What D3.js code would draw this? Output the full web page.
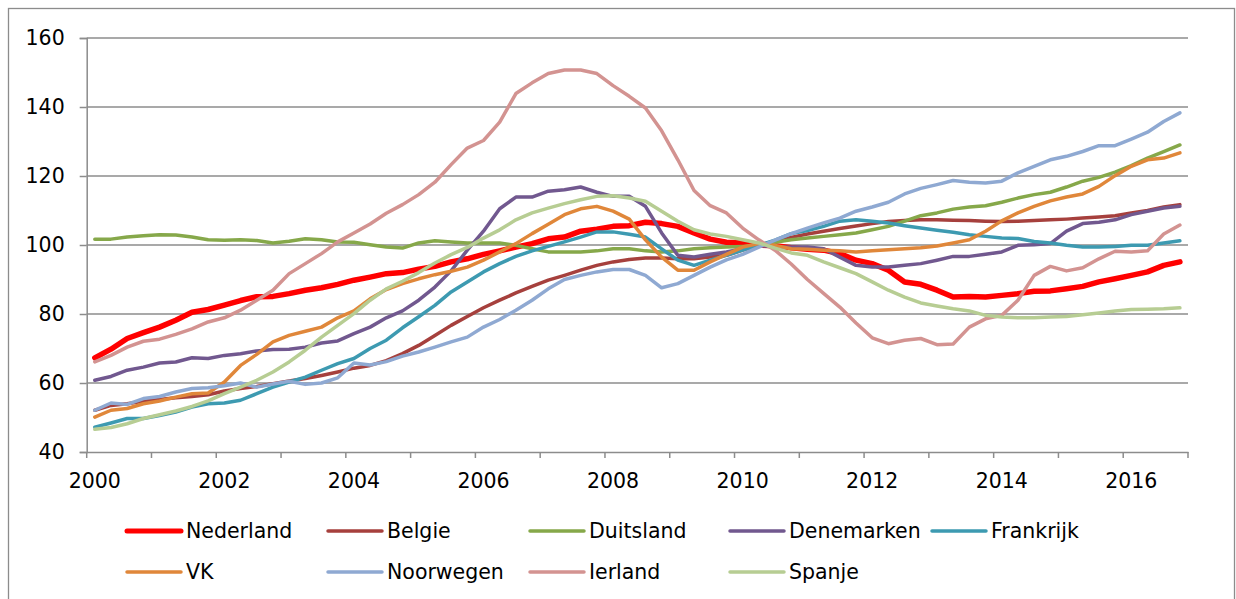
<!DOCTYPE html>
<html>
<head>
<meta charset="utf-8">
<script src="https://cdn.jsdelivr.net/npm/d3@7"></script>
<style>
  body { margin: 0; background: #fff; }
  text { font-family: "DejaVu Sans", Verdana, sans-serif; fill: #000; }
  .axis text { font-size: 20.5px; font-family: "DejaVu Sans", Verdana, sans-serif; }
</style>
</head>
<body>
<svg id="chart" width="1236" height="599"></svg>
<script>
const years = d3.range(2000, 2017)
const quarters = years.flatMap(y => [y + "Q1", y + "Q2", y + "Q3", y + "Q4"])
const yTicks = [40, 60, 80, 100, 120, 140, 160]

const nederland = [67.3, 69.8, 72.9, 74.6, 76.2, 78.2, 80.5, 81.3, 82.6, 83.9, 85.0, 85.1, 85.9, 86.9, 87.6, 88.6, 89.8, 90.7, 91.7, 92.0, 93.0,
    93.8, 95.1, 96.0, 97.3, 98.3, 99.4, 100.4, 101.8, 102.3, 104.0, 104.6, 105.4, 105.6, 106.6, 106.2, 105.4, 103.5, 101.7, 100.8, 100.6, 100.0,
    99.8, 99.2, 98.8, 98.5, 97.5, 95.6, 94.6, 92.7, 89.3, 88.6, 86.9, 84.9, 85.1, 84.9, 85.4, 85.9, 86.6, 86.7, 87.3, 88.0, 89.3, 90.2, 91.2, 92.2, 94.1, 95.1]
const belgie = [52.1, 53.5, 54.0, 54.7, 55.2, 55.7, 56.1, 56.6, 57.7, 58.4, 59.0, 59.8, 60.6, 61.3, 62.2, 63.2, 64.3, 65.1, 66.5, 68.5, 70.9,
    73.8, 76.7, 79.3, 81.8, 84.0, 86.1, 88.0, 89.8, 91.2, 92.7, 94.1, 95.1, 95.8, 96.2, 96.2, 96.0, 96.0, 96.5, 97.0, 98.5, 99.9,
    101.2, 102.2, 103.2, 104.0, 104.8, 105.5, 106.2, 106.8, 107.1, 107.3, 107.3, 107.2, 107.1, 106.9, 106.8, 106.9, 107.1, 107.3, 107.5, 107.8, 108.1, 108.5, 109.3, 110.0, 111.0, 111.7]
const duitsland = [101.7, 101.7, 102.3, 102.7, 103.0, 102.9, 102.3, 101.5, 101.4, 101.5, 101.3, 100.6, 101.1, 101.8, 101.5, 100.9, 100.8, 100.1, 99.4, 99.1, 100.6,
    101.2, 100.9, 100.6, 100.6, 100.6, 99.9, 98.9, 98.0, 98.0, 98.0, 98.3, 98.9, 98.9, 98.3, 98.0, 98.3, 98.9, 99.2, 99.4, 99.6, 99.9,
    100.8, 101.5, 102.0, 102.5, 103.0, 103.5, 104.4, 105.4, 106.9, 108.5, 109.3, 110.4, 111.0, 111.4, 112.4, 113.6, 114.6, 115.3, 116.8, 118.5, 119.6, 121.1, 123.0, 125.2, 127.1, 129.0]
const denemarken = [60.8, 61.9, 63.7, 64.6, 65.8, 66.1, 67.3, 67.1, 68.0, 68.5, 69.3, 69.7, 69.8, 70.4, 71.6, 72.2, 74.3, 76.2, 78.9, 80.9, 84.0,
    87.8, 92.5, 98.5, 104.0, 110.5, 113.9, 113.9, 115.6, 116.0, 116.8, 115.3, 114.1, 114.1, 111.2, 103.5, 97.0, 96.5, 97.3, 98.0, 98.9, 99.9,
    99.4, 99.4, 99.4, 98.9, 96.5, 94.1, 93.6, 93.6, 94.1, 94.6, 95.6, 96.7, 96.7, 97.3, 98.0, 99.9, 100.1, 100.4, 104.0, 106.2, 106.6, 107.3, 108.8, 109.8, 110.7, 111.2]
const frankrijk = [47.2, 48.4, 49.7, 49.7, 50.6, 51.6, 53.0, 54.0, 54.2, 55.0, 56.9, 58.8, 60.3, 61.7, 63.7, 65.6, 67.1, 70.0, 72.4, 76.0, 79.2,
    82.5, 86.4, 89.3, 92.2, 94.6, 96.7, 98.3, 99.6, 100.9, 102.3, 103.8, 103.8, 103.1, 102.3, 98.9, 95.6, 94.1, 95.6, 97.0, 98.5, 99.9,
    101.4, 103.3, 104.2, 105.4, 106.9, 107.3, 106.9, 106.4, 105.6, 104.9, 104.3, 103.7, 103.0, 102.5, 102.0, 101.9, 101.0, 100.6, 99.9, 99.4, 99.4, 99.6, 99.9, 99.9, 100.6, 101.2]
const vk = [50.1, 52.1, 52.6, 54.0, 54.8, 55.9, 56.9, 57.1, 60.3, 65.1, 68.3, 71.9, 73.8, 75.0, 76.2, 78.9, 80.9, 84.4, 87.1, 88.8, 90.2,
    91.4, 92.4, 93.6, 95.6, 98.0, 100.4, 103.3, 106.0, 108.8, 110.5, 111.2, 109.8, 107.5, 101.5, 96.5, 92.7, 92.7, 95.1, 97.3, 99.4, 100.4,
    99.9, 98.9, 98.8, 98.5, 98.3, 98.0, 98.3, 98.6, 98.9, 99.2, 99.7, 100.6, 101.5, 104.0, 107.0, 109.3, 111.2, 112.8, 113.9, 114.8, 117.0, 120.1, 122.8, 124.7, 125.2, 126.7]
const noorwegen = [52.1, 54.2, 53.8, 55.5, 56.1, 57.4, 58.4, 58.6, 59.2, 60.0, 58.8, 59.7, 60.5, 59.6, 60.0, 61.5, 65.8, 65.2, 66.2, 67.8, 69.0,
    70.4, 71.9, 73.3, 76.2, 78.4, 81.1, 84.0, 87.3, 90.0, 91.2, 92.2, 92.9, 92.9, 91.2, 87.6, 88.8, 91.2, 93.6, 95.7, 97.3, 99.4,
    101.4, 103.3, 104.9, 106.4, 107.8, 109.8, 111.0, 112.4, 114.8, 116.4, 117.5, 118.7, 118.2, 118.0, 118.5, 120.9, 122.8, 124.7, 125.7, 127.1, 128.8, 128.8, 130.7, 132.7, 135.8, 138.3]
const ierland = [66.1, 68.0, 70.4, 72.1, 72.7, 74.1, 75.7, 77.7, 78.9, 81.1, 84.0, 86.9, 91.7, 94.6, 97.5, 100.9, 103.5, 106.1, 109.2, 111.7, 114.6,
    118.2, 123.3, 128.1, 130.3, 135.6, 143.9, 147.0, 149.7, 150.7, 150.7, 149.7, 146.2, 143.1, 139.7, 133.1, 124.7, 115.8, 111.4, 109.3, 104.9, 101.5,
    98.5, 94.5, 90.0, 86.0, 82.0, 77.4, 73.1, 71.4, 72.4, 72.9, 71.1, 71.3, 76.2, 78.6, 79.6, 84.0, 91.2, 93.8, 92.5, 93.4, 96.0, 98.2, 98.0, 98.3, 103.2, 105.8]
const spanje = [46.6, 47.1, 48.2, 49.7, 50.8, 51.9, 53.2, 54.8, 56.9, 58.8, 60.8, 63.2, 66.1, 69.5, 73.3, 76.7, 80.1, 84.0, 87.3, 89.5, 92.0,
    94.8, 97.2, 99.3, 102.0, 104.4, 107.3, 109.3, 110.7, 112.0, 113.1, 114.1, 114.3, 113.6, 112.7, 109.8, 106.9, 104.4, 103.2, 102.5, 101.5, 100.6,
    99.1, 97.7, 97.0, 95.1, 93.4, 91.7, 89.3, 86.9, 84.9, 83.2, 82.3, 81.5, 80.9, 79.6, 79.1, 78.9, 78.9, 79.1, 79.3, 79.8, 80.3, 80.9, 81.3, 81.4, 81.5, 81.8]

const seriesNames = ["Nederland", "Belgie", "Duitsland", "Denemarken", "Frankrijk", "VK", "Noorwegen", "Ierland", "Spanje"]
const seriesValues = [nederland, belgie, duitsland, denemarken, frankrijk, vk, noorwegen, ierland, spanje]
const seriesColors = ["#ff0000", "#a6403d", "#86a84a", "#71588f", "#3d9ab1", "#e0873a", "#8fa9d2", "#d39391", "#b7cd93"]
const seriesWidths = [5.5, 3.5, 3.5, 3.5, 3.5, 3.5, 3.5, 3.5, 3.5]

const svg = d3.select("#chart")
const plotLeft = 86.7, plotRight = 1188, plotTop = 38, plotBottom = 452
const gridColor = "#8c8c8c"

// outer frame
svg.append("rect")
    .attr("x", 8.5).attr("y", 8.5)
    .attr("width", 1226).attr("height", 600)
    .attr("fill", "none")
    .attr("stroke", gridColor)
    .attr("stroke-width", 1.3)

const x = d3.scaleBand().domain(quarters).range([plotLeft, plotRight]).padding(0)
const y = d3.scaleLinear().domain([40, 160]).range([plotBottom, plotTop])

// gridlines
svg.append("g").selectAll("line")
    .data(yTicks.filter(d => d > 40))
    .enter().append("line")
    .attr("x1", plotLeft).attr("x2", plotRight)
    .attr("y1", d => y(d)).attr("y2", d => y(d))
    .attr("stroke", gridColor)
    .attr("stroke-width", 1.5)

// y axis
const yAxis = svg.append("g")
    .attr("class", "axis")
    .attr("transform", `translate(${plotLeft},0)`)
    .call(d3.axisLeft(y).tickValues(yTicks).tickSize(7).tickPadding(15))
yAxis.attr("font-size", 20.5).attr("font-family", "DejaVu Sans, Verdana, sans-serif")
yAxis.selectAll("path, line").attr("stroke", gridColor).attr("stroke-width", 1.5)

// x axis: labels every 2 years, ticks at year boundaries
const xAxis = svg.append("g")
    .attr("class", "axis")
    .attr("transform", `translate(0,${plotBottom})`)
    .call(d3.axisBottom(x)
        .tickValues(quarters.filter((q, i) => i % 8 === 0))
        .tickFormat(q => q.slice(0, 4))
        .tickSize(0).tickPadding(21))
xAxis.attr("font-size", 20.5).attr("font-family", "DejaVu Sans, Verdana, sans-serif")
xAxis.select("path").attr("stroke", gridColor).attr("stroke-width", 1.5)

const yearEdges = quarters.filter((q, i) => i % 4 === 0).map(q => x(q)).concat([plotRight])
svg.append("g").selectAll("line")
    .data(yearEdges)
    .enter().append("line")
    .attr("x1", d => d).attr("x2", d => d)
    .attr("y1", plotBottom).attr("y2", plotBottom + 6)
    .attr("stroke", gridColor)
    .attr("stroke-width", 1.5)

// lines
const line = d3.line()
    .x((d, i) => x(quarters[i]) + x.bandwidth() / 2)
    .y(d => y(d))

svg.append("g").selectAll("path")
    .data(seriesValues)
    .enter().append("path")
    .attr("d", line)
    .attr("fill", "none")
    .attr("stroke", (d, i) => seriesColors[i])
    .attr("stroke-width", (d, i) => seriesWidths[i])
    .attr("stroke-linejoin", "round")
    .attr("stroke-linecap", "round")

// legend
const legendCols = [127, 328, 530, 730, 932]
const legendRows = [531, 572]
const legend = svg.append("g").selectAll("g")
    .data(seriesNames)
    .enter().append("g")
    .attr("transform", (d, i) => `translate(${legendCols[i % 5]},${legendRows[Math.floor(i / 5)]})`)

legend.append("line")
    .attr("x1", 0).attr("x2", 54)
    .attr("stroke", (d, i) => seriesColors[i])
    .attr("stroke-width", (d, i) => i === 0 ? 5 : 3.5)
    .attr("stroke-linecap", "round")

legend.append("text")
    .attr("x", 59)
    .attr("dy", "0.35em")
    .style("font-size", "20.5px")
    .text(d => d)
</script>
</body>
</html>
